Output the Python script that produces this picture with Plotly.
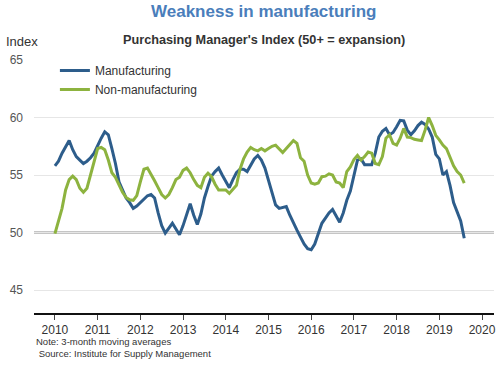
import plotly.graph_objects as go

START_YEAR = 2010
manufacturing = [
    55.8, 56.2, 56.9, 57.5, 58.0, 57.2, 56.6, 56.3, 56.0, 56.2, 56.5, 56.9,
    57.6, 58.2, 58.75, 58.5, 57.3, 56.0, 54.4, 53.7, 53.0, 52.6, 52.1, 52.3,
    52.6, 52.9, 53.2, 53.3, 53.0, 51.7, 50.6, 49.95, 50.4, 50.8, 50.3, 49.8,
    50.6, 51.5, 52.5, 51.5, 50.7, 51.6, 53.0, 54.0, 54.9, 55.3, 55.6, 55.0,
    54.4, 53.9, 54.6, 55.2, 55.5, 55.5, 55.3, 55.8, 56.4, 56.7, 56.3, 55.6,
    54.6, 53.4, 52.4, 52.1, 52.2, 52.25, 51.5, 50.8, 50.2, 49.6, 49.0, 48.6,
    48.5, 49.0, 50.0, 50.8, 51.25, 51.7, 52.0, 51.4, 50.9, 51.7, 52.8, 53.6,
    55.0, 56.3, 56.4, 55.9, 55.9, 55.9, 56.9, 58.3, 58.8, 59.05, 58.5, 58.7,
    59.2, 59.75, 59.7, 58.9, 58.5, 58.85, 59.3, 59.6, 59.4, 59.0, 58.3, 56.8,
    56.4, 55.0, 55.3, 54.1, 52.6, 51.7, 51.0, 49.5,
]
non_manufacturing = [
    49.9, 50.9, 52.1, 53.7, 54.6, 54.9, 54.6, 53.85, 53.5, 53.85, 55.0, 56.4,
    57.3, 57.4, 57.2, 56.3, 55.2, 54.8, 54.1, 53.5, 53.05, 52.85, 52.8, 53.2,
    54.4, 55.5, 55.6, 55.1, 54.5, 53.9, 53.3, 53.0, 53.3, 53.9, 54.6, 54.8,
    55.4, 55.6, 55.2, 54.6, 54.1, 53.9, 54.8, 55.15, 54.85, 54.2, 53.7, 53.7,
    53.7, 53.4, 53.8, 54.1, 55.5, 56.4, 57.0, 57.4, 57.2, 57.1, 57.3, 57.1,
    57.3, 57.5, 57.6, 57.3, 56.95, 57.3, 57.7, 58.0, 57.75, 56.5, 56.2, 55.0,
    54.3, 54.2, 54.3, 54.85, 54.9, 55.1, 55.0, 54.4, 54.3, 53.9, 55.3, 55.7,
    56.35, 56.7, 56.3, 56.6, 57.0, 56.9, 56.0, 55.9, 56.6, 58.2, 58.5, 57.75,
    57.6, 58.2, 59.05, 58.3, 58.25, 58.1, 58.05, 58.0, 58.9, 60.0, 59.3, 58.45,
    58.05, 57.6, 57.3, 56.5, 55.8, 55.3, 55.0, 54.3,
]
x_ticks = list(range(2010, 2021))
y_ticks = [45, 50, 55, 60, 65]
THRESHOLD = 50

dates = [START_YEAR + i / 12 for i in range(len(manufacturing))]

BLUE = "#2d5d8b"
GREEN = "#8db33f"
FONT = "Liberation Sans, Arial, sans-serif"

fig = go.Figure()
fig.add_trace(go.Scatter(x=dates, y=manufacturing, mode="lines", name="Manufacturing",
                         line=dict(color=BLUE, width=3)))
fig.add_trace(go.Scatter(x=dates, y=non_manufacturing, mode="lines", name="Non-manufacturing",
                         line=dict(color=GREEN, width=3)))

fig.add_shape(type="line", xref="paper", x0=0, x1=1, yref="y", y0=THRESHOLD, y1=THRESHOLD,
              line=dict(color="#8c8c8c", width=2), layer="below")

fig.update_layout(
    width=500, height=365,
    margin=dict(l=34, r=4, t=60, b=52),
    paper_bgcolor="white", plot_bgcolor="white",
    font=dict(family=FONT, color="#333333", size=12),
    showlegend=True,
    legend=dict(x=(55 - 34) / 462, y=(313 - 56) / 253, xanchor="left", yanchor="top",
                bgcolor="rgba(0,0,0,0)", font=dict(size=12, color="#333333"),
                itemwidth=30, tracegroupgap=0),
    xaxis=dict(range=[2009.51, 2020.28], tickvals=x_ticks, ticktext=[str(t) for t in x_ticks],
               showgrid=False, zeroline=False, showline=True, linecolor="#111111", linewidth=2,
               ticks="outside", ticklen=5, tickcolor="#444444", tickwidth=1,
               tickfont=dict(size=12, color="#333333")),
    yaxis=dict(range=[43, 65], tickvals=y_ticks, showgrid=True, gridcolor="#e6e6e6",
               gridwidth=1, zeroline=False, showline=False, ticks="",
               ticklabelstandoff=10, tickfont=dict(size=12, color="#555555")),
    annotations=[
        dict(text="<b>Weakness in manufacturing</b>", xref="paper", yref="paper",
             x=(264.5 - 34) / 462, y=(313 - 12) / 253, xanchor="center", yanchor="middle",
             showarrow=False, font=dict(size=17, color="#4a7ebb", family=FONT)),
        dict(text="<b>Purchasing Manager's Index (50+ = expansion)</b>", xref="paper", yref="paper",
             x=(264.5 - 34) / 462, y=(313 - 40) / 253, xanchor="center", yanchor="middle",
             showarrow=False, font=dict(size=12.7, color="#333333", family=FONT)),
        dict(text="Index", xref="paper", yref="paper",
             x=(4 - 34) / 462, y=(313 - 42) / 253, xanchor="left", yanchor="middle",
             showarrow=False, font=dict(size=13, color="#333333", family=FONT)),
        dict(text="Note: 3-month moving averages<br> Source: Institute for Supply Management",
             xref="paper", yref="paper", x=0, y=(313 - 334) / 253, xanchor="left", yanchor="top",
             align="left", showarrow=False, font=dict(size=9.5, color="#333333", family=FONT)),
    ],
)

fig.write_html("out.html", config={"displayModeBar": False},
               post_script="document.body.style.margin='0';document.body.style.padding='0';")
